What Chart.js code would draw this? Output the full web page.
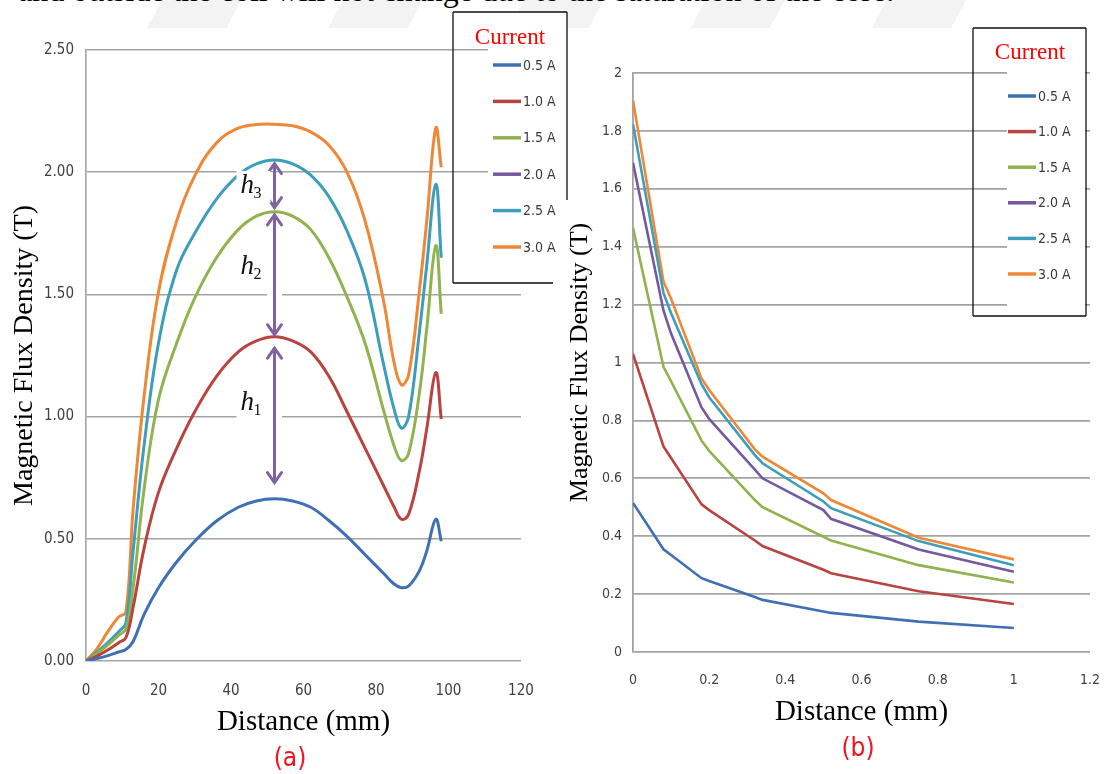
<!DOCTYPE html>
<html>
<head>
<meta charset="utf-8">
<script src="https://cdn.jsdelivr.net/npm/chart.js@4.4.1/dist/chart.umd.min.js"></script>
<style>
  html, body { margin: 0; padding: 0; background: #fff; }
  body { width: 1109px; height: 774px; position: relative; overflow: hidden; }
  #wm {
    position: absolute; left: 60px; top: 0; width: 950px; height: 28px;
    background: repeating-linear-gradient(118deg, rgba(0,0,0,0) 0 90px, #f3f3f3 90px 160px);
  }
  #sentence {
    position: absolute; left: 18px; top: -26px; white-space: nowrap;
    font: 32px/32px 'Liberation Serif', 'Times New Roman', serif; color: #000;
  }
  canvas { position: absolute; top: 0; }
  #chartA { left: 0; }
  #chartB { left: 553px; }
</style>
</head>
<body>
<div id="wm"></div>
<div id="sentence">and outside the coil will not change due to the saturation of the core.</div>
<canvas id="chartA" width="570" height="774"></canvas>
<canvas id="chartB" width="556" height="774"></canvas>
<script>
// --- series labels / colours ---
const currents = ['0.5 A', '1.0 A', '1.5 A', '2.0 A', '2.5 A', '3.0 A'];
const colors = ['#3F70B3', '#B9433F', '#90B24F', '#7658A0', '#3D9EBB', '#EE8736'];

// --- (a) flux density along the coil, distance in mm ---
const distA = [0, 3, 6, 9, 11, 13, 16, 20, 25, 30, 36, 42, 47, 52, 57, 62, 67, 72, 77, 82, 85, 87, 89, 92, 94, 96.5, 98];
const a05 = [0, 0.01, 0.022, 0.037, 0.047, 0.08, 0.19, 0.30, 0.405, 0.49, 0.573, 0.629, 0.655, 0.664, 0.655, 0.629, 0.575, 0.51, 0.435, 0.36, 0.315, 0.30, 0.307, 0.37, 0.45, 0.58, 0.49];
const a10 = [0, 0.02, 0.045, 0.075, 0.095, 0.22, 0.46, 0.69, 0.87, 1.02, 1.165, 1.265, 1.31, 1.327, 1.31, 1.265, 1.165, 1.02, 0.87, 0.72, 0.63, 0.58, 0.60, 0.78, 0.95, 1.18, 0.99];
const a15 = [0, 0.03, 0.065, 0.105, 0.13, 0.30, 0.70, 1.07, 1.30, 1.485, 1.65, 1.765, 1.82, 1.838, 1.82, 1.765, 1.65, 1.49, 1.30, 1.03, 0.88, 0.82, 0.85, 1.10, 1.36, 1.70, 1.42];
const a20 = []; // not plotted in (a), legend entry only
const a25 = [0, 0.035, 0.075, 0.12, 0.155, 0.45, 0.88, 1.30, 1.60, 1.75, 1.89, 1.988, 2.034, 2.05, 2.034, 1.988, 1.90, 1.76, 1.56, 1.22, 1.03, 0.953, 1.00, 1.35, 1.62, 1.95, 1.65];
const a30 = [0, 0.05, 0.12, 0.18, 0.20, 0.62, 1.08, 1.51, 1.80, 1.985, 2.12, 2.18, 2.195, 2.196, 2.19, 2.165, 2.11, 2.00, 1.80, 1.48, 1.22, 1.13, 1.17, 1.52, 1.80, 2.18, 2.02];

// h1..h3 gap arrows at the middle of the coil (values in T)
const arrowX = 52;
const arrowsA = [
  { sub: '3', from: 2.035, to: 1.855, labelAt: 1.94 },
  { sub: '2', from: 1.825, to: 1.335, labelAt: 1.61 },
  { sub: '1', from: 1.28, to: 0.73, labelAt: 1.05 }
];

// --- (b) flux density outside the coil, distance in mm ---
const distB = [0, 0.08, 0.1, 0.18, 0.2, 0.32, 0.34, 0.5, 0.52, 0.75, 1];
const b05 = [0.515, 0.355, 0.335, 0.255, 0.245, 0.19, 0.18, 0.14, 0.135, 0.105, 0.083];
const b10 = [1.03, 0.71, 0.67, 0.51, 0.49, 0.385, 0.366, 0.284, 0.272, 0.21, 0.166];
const b15 = [1.465, 0.985, 0.935, 0.73, 0.695, 0.525, 0.50, 0.398, 0.385, 0.30, 0.24];
const b20 = [1.69, 1.18, 1.10, 0.845, 0.805, 0.63, 0.60, 0.49, 0.46, 0.354, 0.277];
const b25 = [1.823, 1.24, 1.17, 0.925, 0.88, 0.68, 0.652, 0.52, 0.497, 0.383, 0.30];
const b30 = [1.905, 1.28, 1.22, 0.945, 0.905, 0.70, 0.675, 0.548, 0.525, 0.395, 0.32];

const ticksY_A = [0, 0.5, 1, 1.5, 2, 2.5];

const NARROW = "'DejaVu Sans Condensed', 'Liberation Sans Narrow', sans-serif";
const SERIF = "'Liberation Serif', 'Times New Roman', serif";
Chart.defaults.font.family = NARROW;

function toPoints(xs, ys) {
  return ys.map((y, i) => ({ x: xs[i], y: y }));
}

function makeDatasets(xs, series, width, opts) {
  return series.map((ys, i) => Object.assign({
    label: currents[i],
    data: toPoints(xs, ys),
    borderColor: colors[i],
    backgroundColor: colors[i],
    borderWidth: width,
    pointRadius: 0,
    fill: false
  }, opts));
}

// Legend box with red "Current" heading, drawn at fixed spot like the Excel one
const currentLegend = {
  id: 'currentLegend',
  afterDraw(chart, args, o) {
    const ctx = chart.ctx;
    ctx.save();
    ctx.fillStyle = '#fff';
    ctx.fillRect(o.fillLeft, o.top + 1, o.right - o.fillLeft - 1, o.bottom - o.top - 2);
    ctx.strokeStyle = '#111';
    ctx.lineWidth = 1.3;
    ctx.beginPath();
    ctx.moveTo(o.left, o.top); ctx.lineTo(o.right, o.top);
    ctx.moveTo(o.left, o.top); ctx.lineTo(o.left, o.bottom);
    ctx.moveTo(o.left, o.bottom); ctx.lineTo(o.bottomEnd || o.right, o.bottom);
    ctx.moveTo(o.right, o.top); ctx.lineTo(o.right, o.rightEnd || o.bottom);
    ctx.stroke();

    ctx.fillStyle = '#ff0000';
    ctx.font = '23px ' + SERIF;
    ctx.textAlign = 'center';
    ctx.textBaseline = 'middle';
    ctx.fillText('Current', o.titleX, o.titleY);

    ctx.font = '14px ' + NARROW;
    ctx.textAlign = 'left';
    chart.data.datasets.forEach((ds, i) => {
      const y = o.itemY0 + i * o.itemDY;
      ctx.strokeStyle = ds.borderColor;
      ctx.lineWidth = 3.5;
      ctx.beginPath();
      ctx.moveTo(o.lineX0, y); ctx.lineTo(o.lineX1, y);
      ctx.stroke();
      ctx.fillStyle = '#3a3a3a';
      ctx.fillText(ds.label, o.textX, y + 1);
    });
    ctx.restore();
  }
};

// double headed purple arrows with h_n labels (chart a)
const gapArrows = {
  id: 'gapArrows',
  afterDatasetsDraw(chart, args, o) {
    if (!o.items) return;
    const ctx = chart.ctx;
    const xs = chart.scales.x, ys = chart.scales.y;
    const px = xs.getPixelForValue(o.x);
    ctx.save();
    o.items.forEach(a => {
      const y1 = ys.getPixelForValue(a.from);
      const y2 = ys.getPixelForValue(a.to);
      // white halo breaks the grid lines
      ctx.strokeStyle = '#fff';
      ctx.lineWidth = 15;
      ctx.beginPath();
      ctx.moveTo(px, y1 + 9); ctx.lineTo(px, y2 - 9);
      ctx.stroke();

      ctx.strokeStyle = '#8064A2';
      ctx.lineWidth = 3;
      ctx.lineCap = 'round';
      ctx.beginPath();
      ctx.moveTo(px, y1); ctx.lineTo(px, y2);
      ctx.moveTo(px - 7, y1 + 10); ctx.lineTo(px, y1); ctx.lineTo(px + 7, y1 + 10);
      ctx.moveTo(px - 7, y2 - 10); ctx.lineTo(px, y2); ctx.lineTo(px + 7, y2 - 10);
      ctx.stroke();

      const ly = ys.getPixelForValue(a.labelAt);
      const lx = px - 30;
      ctx.fillStyle = '#fff';
      ctx.fillRect(lx - 8, ly - 16, 34, 32);
      ctx.fillStyle = '#111';
      ctx.textBaseline = 'alphabetic';
      ctx.textAlign = 'left';
      ctx.font = 'italic 27px ' + SERIF;
      ctx.fillText('h', lx - 4, ly + 6);
      ctx.font = '16px ' + SERIF;
      ctx.fillText(a.sub, lx + 9, ly + 11);
    });
    ctx.restore();
  }
};

// red (a)/(b) caption under each chart
const caption = {
  id: 'caption',
  afterDraw(chart, args, o) {
    const ctx = chart.ctx;
    ctx.save();
    ctx.fillStyle = '#f0141e';
    ctx.font = '26px ' + NARROW;
    ctx.textAlign = 'center';
    ctx.textBaseline = 'middle';
    ctx.fillText(o.text, o.x, o.y);
    ctx.restore();
  }
};

const gridGrey = '#a3a3a3';

// ---------- chart (a) ----------
new Chart(document.getElementById('chartA'), {
  type: 'line',
  data: {
    datasets: makeDatasets(distA, [a05, a10, a15, a20, a25, a30], 3, { tension: 0.4 })
  },
  options: {
    responsive: false,
    animation: false,
    layout: { padding: { left: 0, top: 50, right: 49, bottom: 0 } },
    plugins: {
      legend: { display: false },
      tooltip: { enabled: false },
      currentLegend: {
        left: 453, top: 12, right: 567, bottom: 283, fillLeft: 488, rightEnd: 200, bottomEnd: 553,
        titleX: 510, titleY: 38, lineX0: 493, lineX1: 521, textX: 523, itemY0: 65, itemDY: 36.4
      },
      gapArrows: { x: arrowX, items: arrowsA },
      caption: { text: '(a)', x: 290, y: 759 }
    },
    scales: {
      x: {
        type: 'linear', min: 0, max: 120,
        // tick marks hidden with the grid; their length only pushes the labels down
        grid: { display: false, drawTicks: true, tickLength: 19 },
        border: { display: false },
        ticks: { stepSize: 20, padding: 2, color: '#404040', font: { size: 15 } },
        title: { display: true, text: 'Distance (mm)', color: '#000', font: { family: SERIF, size: 29 }, padding: { top: 0, bottom: 34 } },
        afterFit: s => { s.height = 113; }
      },
      y: {
        min: 0, max: 2.5,
        afterBuildTicks: s => { s.ticks = ticksY_A.map(v => ({ value: v })); },
        grid: { color: gridGrey, lineWidth: 1.6, drawTicks: false },
        border: { display: true, color: gridGrey, width: 1.6 },
        ticks: { padding: 12, color: '#404040', font: { size: 15 }, callback: v => v.toFixed(2) },
        title: { display: true, text: 'Magnetic Flux Density (T)', color: '#000', font: { family: SERIF, size: 28 }, padding: { top: 8, bottom: 0 } },
        afterFit: s => { s.width = 86; }
      }
    }
  },
  plugins: [currentLegend, gapArrows, caption]
});

// ---------- chart (b) ----------
new Chart(document.getElementById('chartB'), {
  type: 'line',
  data: {
    datasets: makeDatasets(distB, [b05, b10, b15, b20, b25, b30], 2.6, { tension: 0 })
  },
  options: {
    responsive: false,
    animation: false,
    layout: { padding: { left: 0, top: 73, right: 19, bottom: 0 } },
    plugins: {
      legend: { display: false },
      tooltip: { enabled: false },
      currentLegend: {
        left: 420, top: 28, right: 533, bottom: 316, fillLeft: 454,
        titleX: 477, titleY: 53, lineX0: 455, lineX1: 483, textX: 485, itemY0: 96, itemDY: 35.6
      },
      caption: { text: '(b)', x: 305, y: 749 }
    },
    scales: {
      x: {
        type: 'linear', min: 0, max: 1.2,
        grid: { display: false, drawTicks: true, tickLength: 18 },
        border: { display: false },
        ticks: { stepSize: 0.2, padding: 2, color: '#404040', font: { size: 14 }, callback: v => String(Math.round(v * 10) / 10) },
        title: { display: true, text: 'Distance (mm)', color: '#000', font: { family: SERIF, size: 29 }, padding: { top: 0, bottom: 44 } },
        afterFit: s => { s.height = 122; }
      },
      y: {
        min: 0, max: 2,
        grid: { color: gridGrey, lineWidth: 1.8, drawTicks: false },
        border: { display: true, color: gridGrey, width: 1.8 },
        ticks: { stepSize: 0.2, padding: 11, color: '#404040', font: { size: 14 }, callback: v => String(Math.round(v * 10) / 10) },
        title: { display: true, text: 'Magnetic Flux Density (T)', color: '#000', font: { family: SERIF, size: 26 }, padding: { top: 12, bottom: 0 } },
        afterFit: s => { s.width = 80; }
      }
    }
  },
  plugins: [currentLegend, caption]
});
</script>
</body>
</html>
